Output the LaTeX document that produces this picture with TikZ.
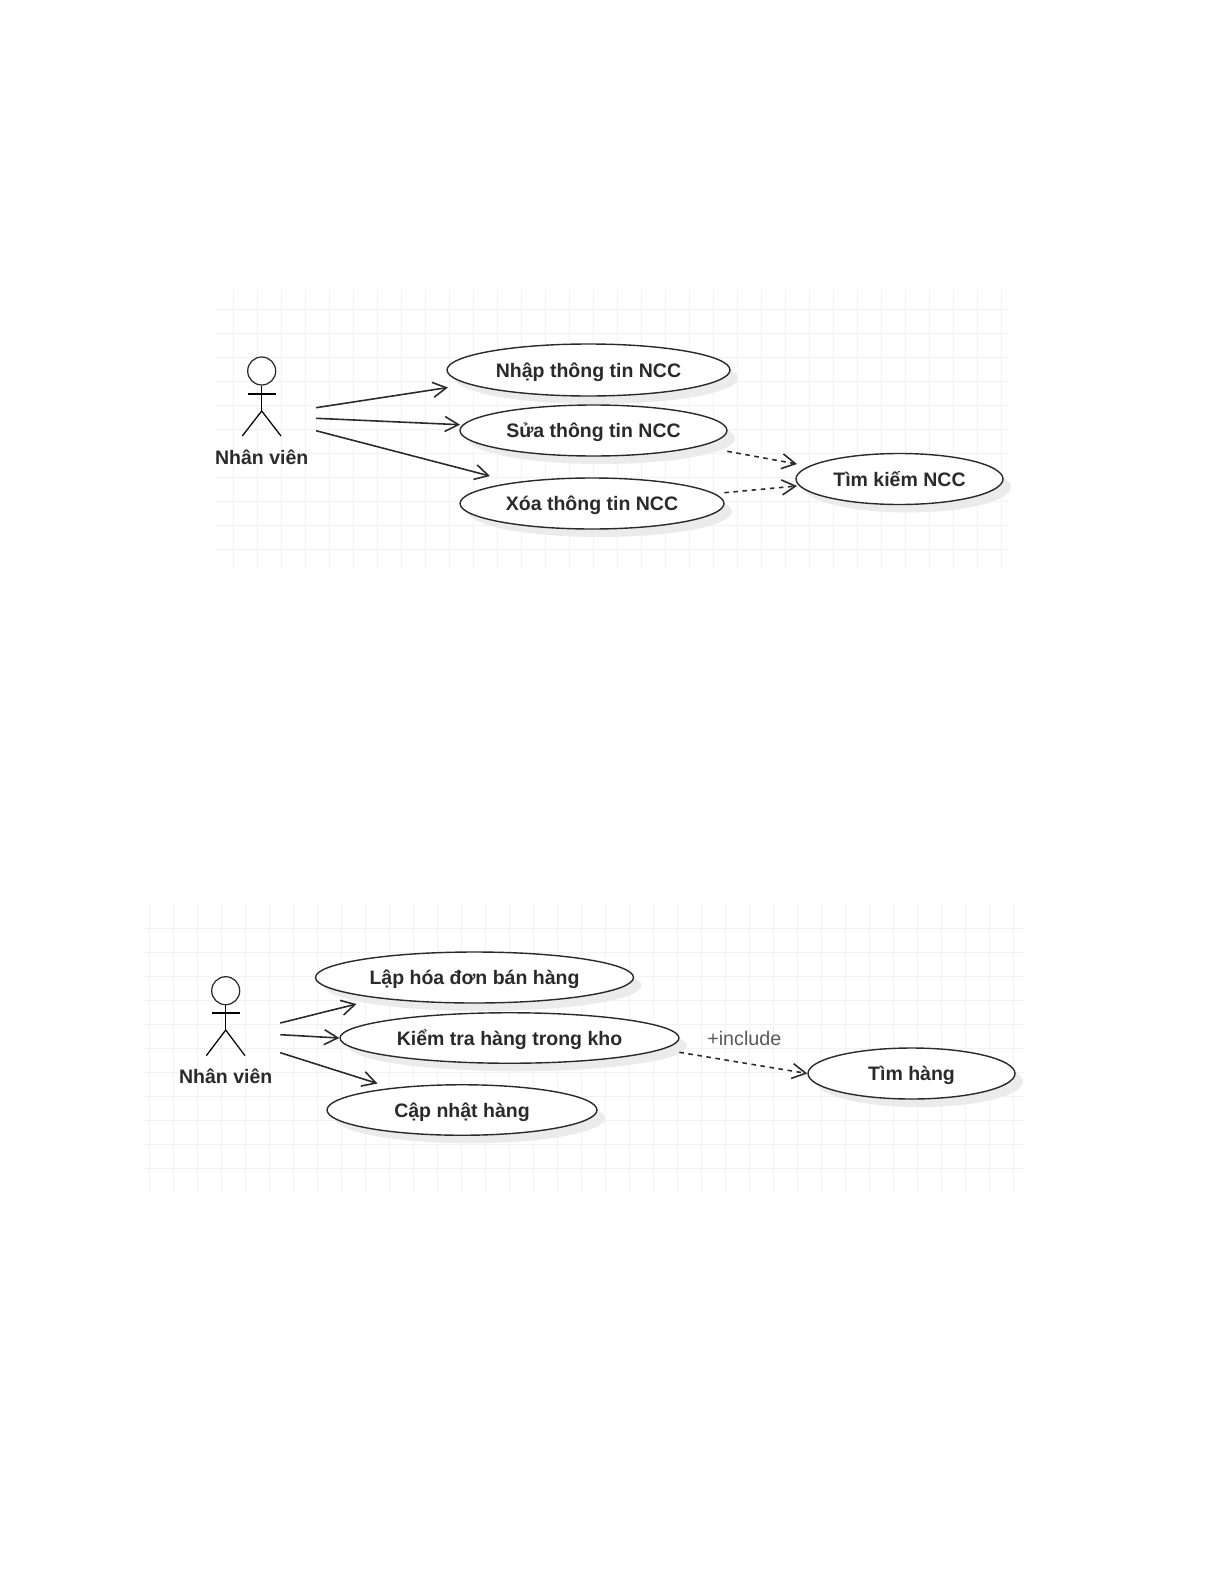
\documentclass[tikz,border=0pt]{standalone}
\usepackage{fontspec}
\setmainfont{Liberation Sans}
\usetikzlibrary{arrows.meta,shadows,shapes.geometric}
\definecolor{gridgray}{HTML}{F2F2F2}
\definecolor{inkgray}{HTML}{2A2A2A}
\tikzset{
	>={Straight Barb[length=0.27cm, width=0.3cm]},
	gridline/.style={draw=gridgray, line width=0.55pt},
	usecase/.style={ellipse, draw=inkgray, fill=white, line width=0.8pt, inner sep=0pt, text=inkgray, text height=8pt, text depth=0pt, font=\fontsize{11.1}{14}\selectfont\bfseries, drop shadow={shadow xshift=0.16cm, shadow yshift=-0.16cm, fill=black!8, opacity=1}},
	actorlabel/.style={text=inkgray, font=\fontsize{11.1}{14}\selectfont\bfseries},
	head/.style={circle, draw=inkgray, fill=white, line width=0.7pt, inner sep=0pt, minimum size=0.56cm},
	stick/.style={draw=black, line width=0.7pt},
	link/.style={draw=inkgray, line width=0.9pt, ->},
	dep/.style={draw=inkgray, line width=0.9pt, ->, dash pattern=on 2.6pt off 2.6pt}
}
\begin{document}
\begin{tikzpicture}[x=0.02cm, y=-0.02cm]

\path [fill=white, use as bounding box] (0, 0) rectangle (1225, 1585);

% upper grid
\foreach \i in {0,...,32} \draw [gridline] ({233+24*\i}, 289) -- ({233+24*\i}, 569);
\foreach \i in {0,...,10} \draw [gridline] (216, {309+24*\i}) -- (1009, {309+24*\i});

% lower grid
\foreach \i in {0,...,36} \draw [gridline] ({149+24*\i}, 903) -- ({149+24*\i}, 1193);
\foreach \i in {0,...,10} \draw [gridline] (144, {928+24*\i}) -- (1024, {928+24*\i});

% upper use cases
\node(nhap) [usecase, minimum width=5.66cm, minimum height=1.04cm] at (588.5, 370) {Nhập thông tin NCC};
\node(sua) [usecase, minimum width=5.34cm, minimum height=1.02cm] at (593.5, 430.5) {Sửa thông tin NCC};
\node(xoa) [usecase, minimum width=5.28cm, minimum height=1.02cm] at (592, 503.5) {Xóa thông tin NCC};
\node(timncc) [usecase, minimum width=4.14cm, minimum height=1.02cm] at (899.5, 479) {Tìm kiếm NCC};

% upper actor
\node(head1) [head] at (261.7, 371) {};
\coordinate(hip1) at (261.7, 411);
\coordinate(armL1) at (247.7, 394);
\coordinate(armR1) at (275.7, 394);
\coordinate(legL1) at (242.3, 436);
\coordinate(legR1) at (281, 436);
\draw [stick] (head1) -- (hip1);
\draw [stick] (armL1) -- (armR1);
\draw [stick] (legL1) -- (hip1) -- (legR1);
\node(actor1) [actorlabel] at (261.7, 457.3) {Nhân viên};

\coordinate(out1a) at (316, 407.7);
\coordinate(out1b) at (316, 418.3);
\coordinate(out1c) at (316, 430.7);
\coordinate(in1a) at (448, 387.5);
\coordinate(in1b) at (460, 424.7);
\coordinate(in1c) at (490, 476);
\coordinate(dep1a) at (727.3, 451.3);
\coordinate(dep1b) at (724.3, 492.7);
\coordinate(dep1c) at (797, 464);
\coordinate(dep1d) at (797, 486);

\draw [link] (out1a) -- (in1a);
\draw [link] (out1b) -- (in1b);
\draw [link] (out1c) -- (in1c);
\draw [dep] (dep1a) -- (dep1c);
\draw [dep] (dep1b) -- (dep1d);

% lower use cases
\node(lap) [usecase, minimum width=6.36cm, minimum height=1.02cm] at (474.5, 977.5) {Lập hóa đơn bán hàng};
\node(kiem) [usecase, minimum width=6.78cm, minimum height=1.01cm] at (509.5, 1038) {Kiểm tra hàng trong kho};
\node(capnhat) [usecase, minimum width=5.4cm, minimum height=1.01cm] at (462, 1110) {Cập nhật hàng};
\node(timhang) [usecase, minimum width=4.14cm, minimum height=1.02cm] at (911.5, 1073.5) {Tìm hàng};

% lower actor
\node(head2) [head] at (225.7, 990.7) {};
\coordinate(hip2) at (225.7, 1030);
\coordinate(armL2) at (211.7, 1013);
\coordinate(armR2) at (239.7, 1013);
\coordinate(legL2) at (206.3, 1055.7);
\coordinate(legR2) at (245, 1055.7);
\draw [stick] (head2) -- (hip2);
\draw [stick] (armL2) -- (armR2);
\draw [stick] (legL2) -- (hip2) -- (legR2);
\node(actor2) [actorlabel] at (225.7, 1076) {Nhân viên};

\coordinate(out2a) at (280.3, 1023);
\coordinate(out2b) at (280.3, 1034.7);
\coordinate(out2c) at (280.3, 1052.7);
\coordinate(in2a) at (356.5, 1004);
\coordinate(in2c) at (377.5, 1083.5);
\coordinate(dep2a) at (679.3, 1052.3);

\draw [link] (out2a) -- (in2a);
\draw [link] (out2b) -- (kiem.west);
\draw [link] (out2c) -- (in2c);
\draw [dep] (dep2a) -- (timhang.west);
\node(incl) [text=black!65, font=\fontsize{11.2}{14}\selectfont] at (744.3, 1038) {+include};

\end{tikzpicture}
\end{document}
